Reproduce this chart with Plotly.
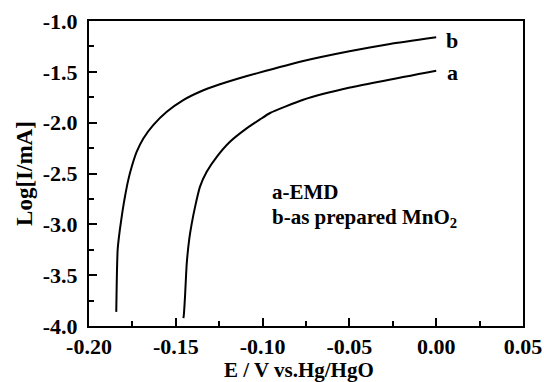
import plotly.graph_objects as go

# Curve a (EMD)
e_a = [-0.1456, -0.1453, -0.1447, -0.1437, -0.1422, -0.1408, -0.1389, -0.1361,
       -0.1322, -0.1264, -0.1188, -0.1092, -0.1015, -0.0957, -0.0766, -0.0497, 0.0]
log_a = [-3.923, -3.877, -3.714, -3.385, -3.139, -2.991, -2.828, -2.631,
         -2.483, -2.336, -2.188, -2.056, -1.968, -1.905, -1.775, -1.655, -1.489]

# Curve b (as prepared MnO2)
e_b = [-0.1843, -0.1840, -0.1835, -0.1822, -0.1806, -0.1793, -0.1774, -0.1754,
       -0.1725, -0.1687, -0.1630, -0.1552, -0.1457, -0.1361, -0.1250, -0.1149,
       -0.1034, -0.0766, -0.0500, -0.0266, 0.0]
log_b = [-3.861, -3.550, -3.250, -3.050, -2.860, -2.729, -2.565, -2.434,
         -2.286, -2.155, -2.024, -1.893, -1.778, -1.696, -1.625, -1.570,
         -1.515, -1.394, -1.298, -1.226, -1.160]

x_ticks = [-0.20, -0.15, -0.10, -0.05, 0.00, 0.05]
x_ticktext = ["-0.20", "-0.15", "-0.10", "-0.05", "0.00", "0.05"]
y_ticks = [-4.0, -3.5, -3.0, -2.5, -2.0, -1.5, -1.0]
y_ticktext = ["-4.0", "-3.5", "-3.0", "-2.5", "-2.0", "-1.5", "-1.0"]

FONT = "Liberation Serif"

fig = go.Figure()
for ex, ly in ((e_a, log_a), (e_b, log_b)):
    fig.add_trace(go.Scatter(x=ex, y=ly, mode="lines",
                             line=dict(color="black", width=2, shape="spline", smoothing=0.5),
                             showlegend=False))

axis_common = dict(showline=True, linecolor="black", linewidth=2, mirror=True,
                   ticks="inside", tickcolor="black", tickwidth=2, ticklen=8,
                   showgrid=False, zeroline=False, automargin=False,
                   tickfont=dict(family=FONT, size=22, color="black", weight="bold"),
                   minor=dict(ticks="inside", ticklen=5, tickwidth=2, tickcolor="black"))

fig.update_xaxes(range=[-0.20, 0.05], tickvals=x_ticks, ticktext=x_ticktext,
                 minor_dtick=0.025, ticklabelstandoff=0,
                 **axis_common)
fig.update_yaxes(range=[-4.0, -1.0], tickvals=y_ticks, ticktext=y_ticktext,
                 minor_dtick=0.25, ticklabelstandoff=5,
                 title=dict(text="Log[I/mA]", standoff=4,
                            font=dict(family=FONT, size=23, color="black", weight="bold")),
                 **axis_common)

# x-axis title as a paper-positioned annotation near the bottom edge
fig.add_annotation(x=(299 - 89) / 434, y=-0.143, xref="paper", yref="paper",
                   text="E / V vs.Hg/HgO", showarrow=False,
                   xanchor="center", yanchor="middle",
                   font=dict(family=FONT, size=21, color="black", weight="bold"))

ann_font = dict(family=FONT, size=21, color="black", weight="bold")
fig.add_annotation(x=0.0091, y=-1.187, text="b", showarrow=False,
                   xanchor="center", yanchor="middle", font=dict(ann_font, size=22))
fig.add_annotation(x=0.0091, y=-1.51, text="a", showarrow=False,
                   xanchor="center", yanchor="middle", font=dict(ann_font, size=22))
fig.add_annotation(x=-0.0957, y=-2.685, text="a-EMD", showarrow=False,
                   xanchor="left", yanchor="middle", font=ann_font)
fig.add_annotation(x=-0.0957, y=-2.94, text="b-as prepared MnO<sub>2</sub>", showarrow=False,
                   xanchor="left", yanchor="middle", font=ann_font)

fig.update_layout(width=544, height=382, paper_bgcolor="white", plot_bgcolor="white",
                  margin=dict(l=89, r=21, t=21, b=56))

fig.write_html("out.html")
